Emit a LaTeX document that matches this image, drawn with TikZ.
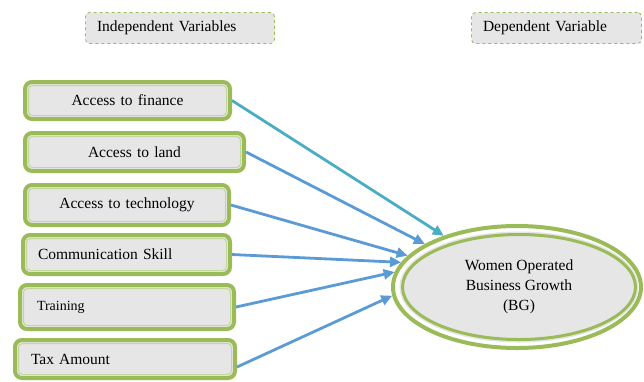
\documentclass[tikz,border=0pt]{standalone}
\usepackage{fontspec}
\setmainfont{Liberation Serif}
\usetikzlibrary{shapes.geometric,arrows.meta}
\definecolor{vgreen}{HTML}{9BBB59}
\definecolor{lgreen}{HTML}{C3D69B}
\definecolor{boxgray}{HTML}{E6E6E6}
\definecolor{tealarrow}{HTML}{4BACC6}
\definecolor{bluearrow}{HTML}{5B9BD5}
\begin{document}
\begin{tikzpicture}[x=1pt, y=-1pt, font=\fontsize{15.5}{20}\selectfont,
		head/.style={draw=vgreen, dashed, line width=0.8pt, fill=boxgray, rounded corners=4pt, inner xsep=11.5pt, inner ysep=0pt, minimum height=31pt, align=left},
		var/.style={draw=vgreen, line width=4pt, fill=boxgray, rounded corners=7pt, inner ysep=0pt},
		inline/.style={draw=lgreen, line width=1pt, rounded corners=4pt},
		outerell/.style={ellipse, draw=vgreen, line width=4pt, fill=white, minimum width=248pt, minimum height=122pt, inner sep=0pt},
		innerell/.style={ellipse, draw=vgreen, line width=3pt, fill=boxgray, minimum width=233pt, minimum height=105pt, inner sep=0pt, align=center, preaction={draw=black!10, line width=6pt}},
		conn/.style={line width=2.8pt, draw=bluearrow, -{Triangle[length=11pt, width=10pt]}}]
		
		\useasboundingbox (0,0) rectangle (644,381);
		
		% headings
		\node[head, text width=166pt] (indep) at (180,28) {Independent Variables};
		\node[head, text width=147pt] (dep) at (556.5,28) {Dependent Variable};
		
		% independent variables
		\node[var, inner xsep=8pt, text width=189pt, minimum height=37pt, align=center] (fin) at (127.5,100.5) {Access to finance};
		\node[var, inner xsep=8pt, text width=203pt, minimum height=38pt, align=center] (land) at (134.5,152) {Access to land};
		\node[var, inner xsep=8pt, text width=188pt, minimum height=40pt, align=center] (tech) at (127,205) {Access to technology};
		\node[var, inner xsep=15pt, text width=177pt, minimum height=39pt, align=left] (comm) at (126.5,254.5) {Communication Skill};
		\node[var, inner xsep=17pt, text width=180pt, minimum height=44pt, align=left, font=\fontsize{14}{17}\selectfont] (train) at (127,307) {Training};
		\node[var, inner xsep=16pt, text width=188pt, minimum height=38pt, align=left] (tax) at (125,359) {Tax Amount};
		
		\foreach \n in {fin,land,tech,comm,train,tax}
			\draw[inline] ([shift={(5.5pt,-5.5pt)}]\n.north west) rectangle ([shift={(-5.5pt,5.5pt)}]\n.south east);
		
		% dependent variable
		\node[outerell] (bg) at (517,287) {};
		\node[innerell] (bgin) at (519,287) {Women Operated\\Business Growth\\(BG)};
		
		\draw[conn, draw=tealarrow] (fin.east) -- (bg.145);
		\draw[conn] (land.east) -- (bg.155);
		\draw[conn] (tech.east) -- (bg.164);
		\draw[conn] (comm.east) -- (bg.168);
		\draw[conn] (train.east) -- (bg.173);
		\draw[conn] ([yshift=-8pt]tax.east) -- (bg.184);
		
	\end{tikzpicture}
\end{document}
